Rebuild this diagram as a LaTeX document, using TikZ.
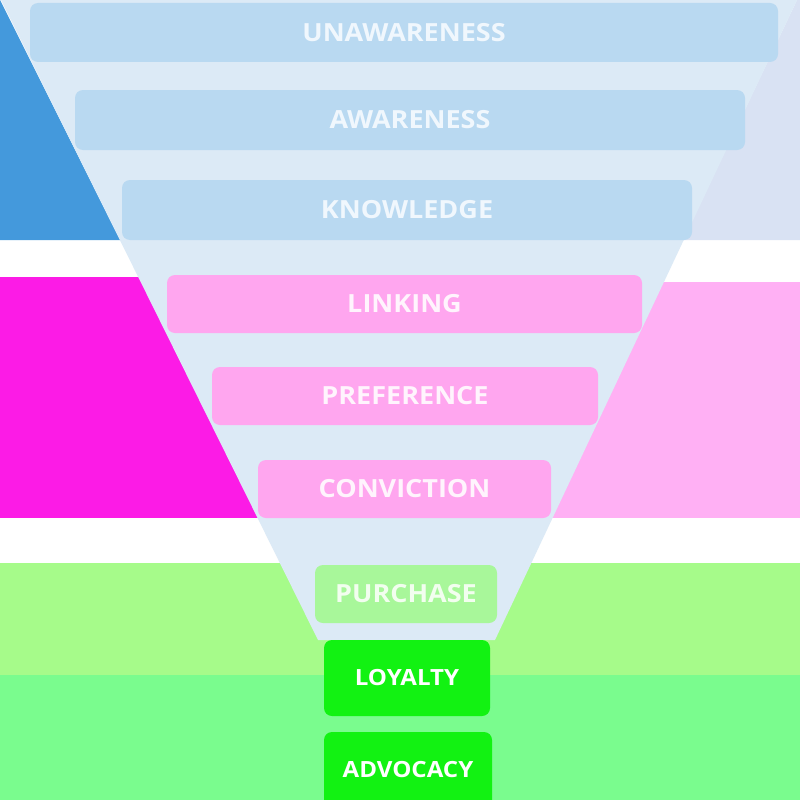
\documentclass[tikz,border=0pt]{standalone}
\usepackage{fontspec}
\setmainfont{Open Sans}[FakeStretch=1.08]
\begin{document}
\begin{tikzpicture}[x=1pt,y=-1pt,
  stage/.style={rectangle, rounded corners=8pt, inner sep=0pt, font=\fontsize{25}{29}\selectfont\bfseries, text=white},
  bluebox/.style={stage, fill=boxblue, text=textblue},
  pinkbox/.style={stage, fill=boxpink, text=textpink},
  lgreenbox/.style={stage, fill=boxlgreen, text=textlgreen},
  greenbox/.style={stage, fill=boxgreen, font=\fontsize{22.3}{26}\selectfont\bfseries}]
\definecolor{funnel}{HTML}{DCEAF6}
\definecolor{boxblue}{HTML}{B9D9F1}
\definecolor{textblue}{HTML}{F0F7FD}
\definecolor{leftblue}{HTML}{4499DC}
\definecolor{rightblue}{HTML}{D9E2F3}
\definecolor{leftpink}{HTML}{FC1BE6}
\definecolor{rightpink}{HTML}{FFB0F4}
\definecolor{boxpink}{HTML}{FFA6EF}
\definecolor{textpink}{HTML}{FFF4FD}
\definecolor{bandlgreen}{HTML}{A6FB8A}
\definecolor{bandgreen}{HTML}{7AFC8E}
\definecolor{boxlgreen}{HTML}{A8F79A}
\definecolor{textlgreen}{HTML}{F2FEEF}
\definecolor{boxgreen}{HTML}{12F212}
\useasboundingbox (0,0) rectangle (800,800);
\fill[white] (0,0) rectangle (800,800);
% background bands
\fill[leftblue] (0,0) -- (120,240) -- (0,240) -- cycle;
\fill[rightblue] (797,0) -- (683,240) -- (800,240) -- (800,0) -- cycle;
\fill[leftpink] (0,277) rectangle (400,518);
\fill[rightpink] (400,282) rectangle (800,518);
\fill[bandlgreen] (0,563) rectangle (800,675);
\fill[bandgreen] (0,675) rectangle (800,800);
% funnel
\fill[funnel] (1,0) -- (797,0) -- (495,640) -- (318,640) -- cycle;
% stages
\node[bluebox, minimum width=748pt, minimum height=59pt] (unaw) at (404,32.5) {UNAWARENESS};
\node[bluebox, minimum width=670pt, minimum height=60pt] (aware) at (410,120) {AWARENESS};
\node[bluebox, minimum width=570pt, minimum height=60pt] (know) at (407,210) {KNOWLEDGE};
\node[pinkbox, minimum width=475pt, minimum height=58pt] (link) at (404.5,304) {LINKING};
\node[pinkbox, minimum width=386pt, minimum height=58pt] (pref) at (405,396) {PREFERENCE};
\node[pinkbox, minimum width=293pt, minimum height=58pt] (conv) at (404.5,489) {CONVICTION};
\node[lgreenbox, minimum width=182pt, minimum height=58pt] (purch) at (406,594) {PURCHASE};
\node[greenbox, minimum width=166pt, minimum height=76pt] (loyal) at (407,678) {LOYALTY};
\node[greenbox, minimum width=168pt, minimum height=76pt] (advoc) at (408,770) {ADVOCACY};
\end{tikzpicture}
\end{document}
